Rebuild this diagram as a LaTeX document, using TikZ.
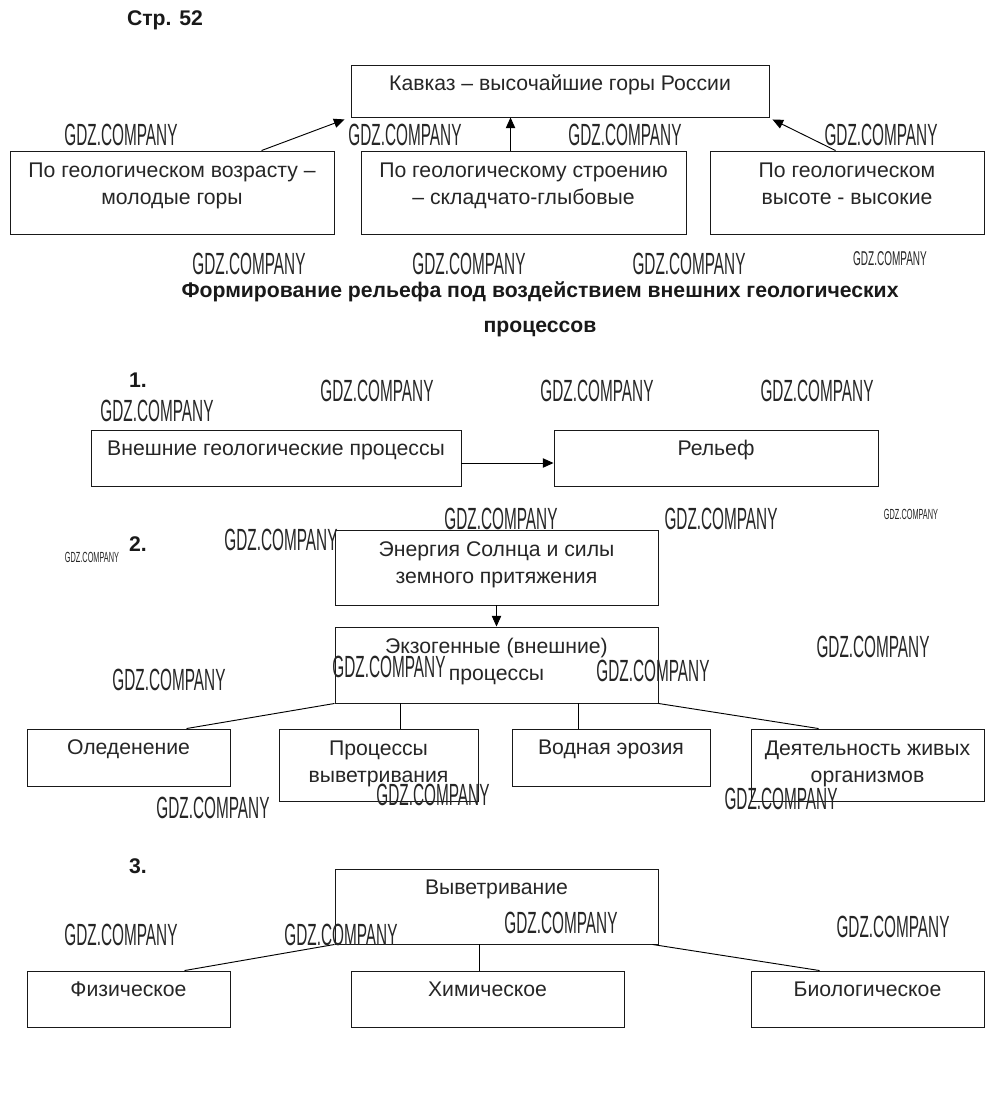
\documentclass[tikz,border=0pt]{standalone}
\usepackage{fontspec}
\setmainfont{Liberation Sans}
\usetikzlibrary{arrows.meta,fit,calc}
\newcommand\gdz{\scalebox{0.5}[1]{GDZ.COMPANY}}
\tikzset{
  box/.style={draw, draw=black!90, line width=0.7pt, inner sep=0pt},
  lbl/.style={anchor=base, align=center, inner sep=0pt, font=\fontsize{15.9}{20.25}\selectfont, text=black!85},
  ttl/.style={anchor=base, inner sep=0pt, font=\bfseries\fontsize{15.9}{18}\selectfont, text=black!90},
  wm/.style={inner sep=0pt, font=\fontsize{23}{23}\selectfont, text=black!85},
  wms/.style={inner sep=0pt, font=\fontsize{15}{15}\selectfont, text=black!85},
  wmt/.style={inner sep=0pt, font=\fontsize{11}{11}\selectfont, text=black!85},
  arr/.style={line width=0.7pt, -{Triangle[length=8pt,width=7pt]}},
  con/.style={line width=0.7pt}
}
\begin{document}
\begin{tikzpicture}[x=0.75pt,y=-0.75pt]
\useasboundingbox (0,0) rectangle (1000,1110);
\fill[white] (0,0) rectangle (1000,1110);

% header
\node[ttl] (str) at (165,26) {Стр. 52};

% top scheme
\node[box, fit={(351,65)(769,117)}] (kav) {};
\node[lbl] (kavt) at ($(kav.north)+(0,26)$) {Кавказ – высочайшие горы России};
\node[box, fit={(10,151)(334,234)}] (lb) {};
\node[lbl] (lbt) at ($(lb.north)+(0,54)$) {По геологическом возрасту –\\молодые горы};
\node[box, fit={(361,151)(686,234)}] (mb) {};
\node[lbl] (mbt) at ($(mb.north)+(0,54)$) {По геологическому строению\\– складчато-глыбовые};
\node[box, fit={(710,151)(984,234)}] (rb) {};
\node[lbl] (rbt) at ($(rb.north)+(0,54)$) {По геологическом\\высоте - высокие};
\draw[arr] ($(lb.north west)+(252,0)$) -- ($(kav.south west)+(-6,2)$);
\coordinate (mbs) at ($(mb.north west)+(150,0)$);
\draw[arr] (mbs) -- (mbs |- kav.south);
\draw[arr] ($(rb.north west)+(126,0)$) -- ($(kav.south east)+(3,2)$);

% title
\node[ttl] (t1) at (540,297) {Формирование рельефа под воздействием внешних геологических};
\node[ttl] (t2) at (540,332) {процессов};

% section 1
\node[ttl] (n1) at (138,387) {1.};
\node[box, fit={(91,430)(461,486)}] (ext) {};
\node[lbl] (extt) at ($(ext.north)+(0,26)$) {Внешние геологические процессы};
\node[box, fit={(554,430)(878,486)}] (rel) {};
\node[lbl] (relt) at ($(rel.north)+(0,26)$) {Рельеф};
\coordinate (exa) at ($(ext.east)+(0,5)$);
\draw[arr] (exa) -- (exa -| rel.west);

% section 2
\node[ttl] (n2) at (138,551) {2.};
\node[box, fit={(335,530)(658,605)}] (en) {};
\node[lbl] (ent) at ($(en.north)+(0,54)$) {Энергия Солнца и силы\\земного притяжения};
\node[box, fit={(335,627)(658,703)}] (ex) {};
\node[lbl] (ext2) at ($(ex.north)+(0,54)$) {Экзогенные (внешние)\\процессы};
\draw[arr] (en.south) -- (ex.north);
\node[box, fit={(27,729)(230,786)}] (ol) {};
\node[lbl] (olt) at ($(ol.north)+(0,26)$) {Оледенение};
\node[box, fit={(279,729)(478,801)}] (pv) {};
\node[lbl] (pvt) at ($(pv.north)+(0,54)$) {Процессы\\выветривания};
\node[box, fit={(512,729)(710,786)}] (vo) {};
\node[lbl] (vot) at ($(vo.north)+(0,26)$) {Водная эрозия};
\node[box, fit={(751,729)(984,801)}] (de) {};
\node[lbl] (det) at ($(de.north)+(0,54)$) {Деятельность живых\\организмов};
\draw[con] (ex.south west) -- ($(ol.north west)+(160,0)$);
\coordinate (exv1) at ($(ex.south west)+(66,0)$);
\draw[con] (exv1) -- (exv1 |- pv.north);
\coordinate (exv2) at ($(ex.south west)+(244,0)$);
\draw[con] (exv2) -- (exv2 |- vo.north);
\draw[con] (ex.south east) -- ($(de.north west)+(68,0)$);

% section 3
\node[ttl] (n3) at (138,873) {3.};
\node[box, fit={(335,869)(658,944)}] (vy) {};
\node[lbl] (vyt) at ($(vy.north)+(0,26)$) {Выветривание};
\node[box, fit={(27,971)(230,1027)}] (fi) {};
\node[lbl] (fit) at ($(fi.north)+(0,26)$) {Физическое};
\node[box, fit={(351,971)(624,1027)}] (hi) {};
\node[lbl] (hit) at ($(hi.north)+(0,26)$) {Химическое};
\node[box, fit={(751,971)(984,1027)}] (bi) {};
\node[lbl] (bit) at ($(bi.north)+(0,26)$) {Биологическое};
\draw[con] (vy.south west) -- ($(fi.north west)+(158,0)$);
\coordinate (vyv) at ($(vy.south west)+(145,0)$);
\draw[con] (vyv) -- (vyv |- hi.north);
\draw[con] ($(vy.south east)+(-6,0)$) -- ($(bi.north west)+(69,0)$);

% watermarks
\node[wm] (w1) at (121,135) {\gdz};
\node[wm] (w2) at (405,135) {\gdz};
\node[wm] (w3) at (625,135) {\gdz};
\node[wm] (w4) at (881,135) {\gdz};
\node[wm] (w5) at (249,264) {\gdz};
\node[wm] (w6) at (469,264) {\gdz};
\node[wm] (w7) at (689,264) {\gdz};
\node[wms] (w8) at (890,259) {\gdz};
\node[wm] (w9) at (377,391) {\gdz};
\node[wm] (w10) at (597,391) {\gdz};
\node[wm] (w11) at (817,391) {\gdz};
\node[wm] (w12) at (157,411) {\gdz};
\node[wm] (w13) at (501,519) {\gdz};
\node[wm] (w14) at (721,519) {\gdz};
\node[wmt] (w15) at (911,514) {\gdz};
\node[wm] (w16) at (281,540) {\gdz};
\node[wmt] (w17) at (92,557) {\gdz};
\node[wm] (w18) at (873,647) {\gdz};
\node[wm] (w19) at (169,680) {\gdz};
\node[wm] (w20) at (389,667) {\gdz};
\node[wm] (w21) at (653,671) {\gdz};
\node[wm] (w22) at (213,808) {\gdz};
\node[wm] (w23) at (433,795) {\gdz};
\node[wm] (w24) at (781,799) {\gdz};
\node[wm] (w25) at (121,935) {\gdz};
\node[wm] (w26) at (341,935) {\gdz};
\node[wm] (w27) at (561,923) {\gdz};
\node[wm] (w28) at (893,927) {\gdz};
\end{tikzpicture}
\end{document}
